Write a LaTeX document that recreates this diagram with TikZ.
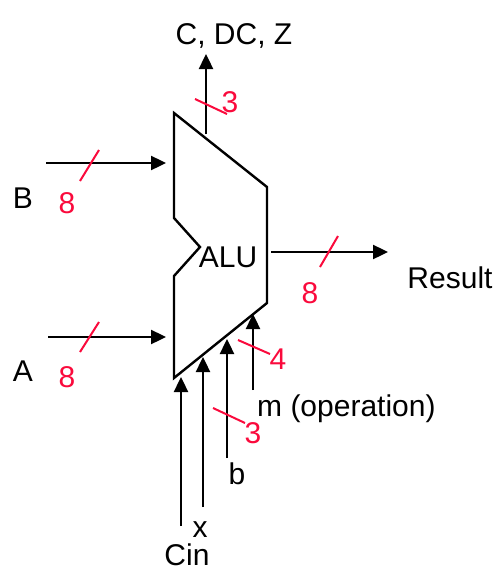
\documentclass[tikz,border=0pt]{standalone}
\usepackage{fontspec}
\setmainfont{Liberation Sans}
\usepackage{xcolor}
\usetikzlibrary{arrows.meta}
\definecolor{busred}{RGB}{250,10,60}

\begin{document}
\begin{tikzpicture}[
    x=1pt, y=-1pt,
    >={Triangle[length=15pt, width=14pt]},
    wire/.style={->, line width=2.4pt, black},
    body/.style={line width=2.4pt, black, line join=miter},
    busmark/.style={line width=2pt, busred},
    txt/.style={font=\fontsize{30}{36}\selectfont, inner sep=0pt, anchor=base},
    wid/.style={txt, text=busred},
]
\useasboundingbox (0,0) rectangle (496,570);

% ── ALU body ──
\coordinate (tl) at (174,113);
\coordinate (tr) at (267,187);
\coordinate (br) at (267,303);
\coordinate (bl) at (174,378);
\coordinate (n3) at (174,276);
\coordinate (n2) at (200,247);
\coordinate (n1) at (174,218);
\draw[body] (tl) -- (tr) -- (br) -- (bl) -- (n3) -- (n2) -- (n1) -- cycle;
\node[txt] (alu) at (228,267) {ALU};

% ── Input B ──
\coordinate (bsrc) at (46,163);
\coordinate (bdst) at (166,163);
\draw[wire] (bsrc) -- (bdst);
\coordinate (bm1) at (80,181);
\coordinate (bm2) at (99,150);
\draw[busmark] (bm1) -- (bm2);
\node[txt] (blbl) at (23,208) {B};
\node[wid] (bwid) at (67,213) {8};

% ── Input A ──
\coordinate (asrc) at (48,337);
\coordinate (adst) at (166,337);
\draw[wire] (asrc) -- (adst);
\coordinate (am1) at (80,352);
\coordinate (am2) at (99,322);
\draw[busmark] (am1) -- (am2);
\node[txt] (albl) at (23,381) {A};
\node[wid] (awid) at (67,387) {8};

% ── Status flags ──
\coordinate (fsrc) at (206,134);
\coordinate (fdst) at (206,54);
\draw[wire] (fsrc) -- (fdst);
\coordinate (fm1) at (195,99);
\coordinate (fm2) at (227,114);
\draw[busmark] (fm1) -- (fm2);
\node[wid] (fwid) at (230,112) {3};
\node[txt] (flbl) at (234,44) {C, DC, Z};

% ── Result ──
\coordinate (rsrc) at (271,252);
\coordinate (rdst) at (388,252);
\draw[wire] (rsrc) -- (rdst);
\coordinate (rm1) at (320,267);
\coordinate (rm2) at (338,236);
\draw[busmark] (rm1) -- (rm2);
\node[wid] (rwid) at (310,303) {8};
\node[txt] (rlbl) at (450,288) {Result};

% ── Bottom inputs ──
\coordinate (csrc) at (181,526);
\coordinate (cdst) at (181,377);
\draw[wire] (csrc) -- (cdst);
\node[txt] (clbl) at (187,565) {Cin};

\coordinate (xsrc) at (203,507);
\coordinate (xdst) at (203,357);
\draw[wire] (xsrc) -- (xdst);
\node[txt] (xlbl) at (200,537) {x};

\coordinate (bbsrc) at (227,458);
\coordinate (bbdst) at (227,339);
\draw[wire] (bbsrc) -- (bbdst);
\coordinate (bbm1) at (213,408);
\coordinate (bbm2) at (245,423);
\draw[busmark] (bbm1) -- (bbm2);
\node[wid] (bbwid) at (253,443) {3};
\node[txt] (bblbl) at (237,484) {b};

\coordinate (msrc) at (253,390);
\coordinate (mdst) at (253,314);
\draw[wire] (msrc) -- (mdst);
\coordinate (mm1) at (238,340);
\coordinate (mm2) at (270,354);
\draw[busmark] (mm1) -- (mm2);
\node[wid] (mwid) at (278,369) {4};
\node[txt, anchor=base west] (mlbl) at (257,416) {m (operation)};

\end{tikzpicture}
\end{document}
